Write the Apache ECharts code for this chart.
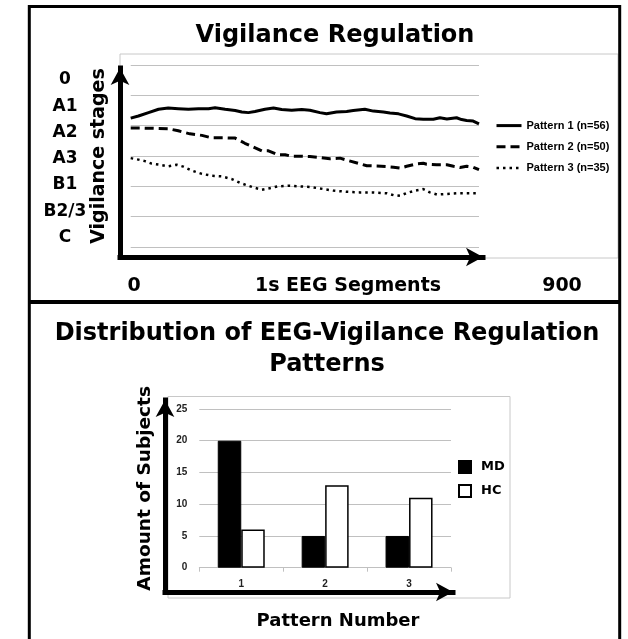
<!DOCTYPE html>
<html>

<head>
    <meta charset="utf-8" />
    <title>Vigilance Regulation</title>
    <style>
        html, body {
            margin: 0;
            padding: 0;
            background: #fff;
        }

        #chart {
            width: 628px;
            height: 639px;
        }
    </style>
</head>

<body>
    <div id="chart"></div>
    <script src="https://cdn.jsdelivr.net/npm/echarts@6.0.0/dist/echarts.min.js"></script>
    <script>
        // upper chart: stage labels, top to bottom
        var stageLabels = ['0', 'A1', 'A2', 'A3', 'B1', 'B2/3', 'C'];
        // x end labels of the upper chart
        var segRange = [0, 900];

        // pattern curves: x = 1s segment, y = grid step (0 = lowest line, 6 = top line)
        var p1X = [0, 20, 46, 72, 97, 123, 149, 175, 201, 218, 244, 270, 287, 304, 321, 347, 369, 390, 416, 442, 463, 489, 506, 532, 558, 575, 605, 627, 653, 670, 692, 713, 735, 756, 782, 799, 817, 842, 855, 868, 885, 900];
        var p1Y = [4.25, 4.32, 4.43, 4.54, 4.58, 4.56, 4.54, 4.56, 4.56, 4.59, 4.54, 4.50, 4.45, 4.43, 4.47, 4.54, 4.58, 4.53, 4.51, 4.53, 4.51, 4.43, 4.39, 4.45, 4.47, 4.50, 4.54, 4.48, 4.45, 4.42, 4.39, 4.32, 4.23, 4.21, 4.21, 4.26, 4.22, 4.26, 4.20, 4.17, 4.15, 4.06];

        var p2X = [0, 28, 63, 97, 123, 153, 184, 209, 244, 270, 295, 313, 339, 356, 381, 399, 416, 442, 463, 489, 515, 541, 562, 588, 610, 636, 662, 679, 696, 713, 739, 756, 765, 791, 817, 834, 851, 868, 885, 900];
        var p2Y = [3.92, 3.92, 3.91, 3.90, 3.83, 3.73, 3.68, 3.60, 3.60, 3.59, 3.42, 3.32, 3.17, 3.17, 3.04, 3.04, 2.99, 2.99, 2.98, 2.95, 2.91, 2.93, 2.85, 2.76, 2.68, 2.67, 2.65, 2.63, 2.60, 2.66, 2.74, 2.76, 2.73, 2.71, 2.71, 2.66, 2.62, 2.66, 2.63, 2.55];

        var p3X = [0, 20, 37, 54, 72, 97, 119, 136, 158, 184, 209, 235, 261, 283, 304, 321, 339, 356, 381, 407, 433, 463, 489, 523, 558, 592, 627, 662, 679, 696, 713, 735, 756, 773, 791, 817, 842, 868, 900];
        var p3Y = [2.93, 2.88, 2.83, 2.75, 2.72, 2.66, 2.71, 2.65, 2.52, 2.41, 2.35, 2.33, 2.24, 2.11, 2.02, 1.95, 1.89, 1.93, 2.00, 2.02, 2.00, 1.98, 1.93, 1.86, 1.82, 1.80, 1.80, 1.77, 1.71, 1.69, 1.78, 1.86, 1.91, 1.80, 1.73, 1.75, 1.77, 1.77, 1.77];

        var patternNames = ['Pattern 1 (n=56)', 'Pattern 2 (n=50)', 'Pattern 3 (n=35)'];

        // lower chart
        var patternNumbers = ['1', '2', '3'];
        var groupNames = ['MD', 'HC'];
        var mdCounts = [20, 5, 5];
        var hcCounts = [6, 13, 11];

        var bigFont = 'DejaVu Sans',
            smallFont = 'Liberation Sans, Arial',
            gridGray = '#c0c0c0',
            frameGray = '#c8c8c8';

        function zip(xs, ys) {
            var out = [];
            for (var i = 0; i < xs.length; i++) {
                out.push([xs[i], ys[i]]);
            }
            return out;
        }

        // axis that only draws a thick black arrow
        function arrowAxis(idx) {
            return {
                type: 'value',
                gridIndex: idx,
                min: 0,
                max: 1,
                axisLine: {
                    show: true,
                    onZero: false,
                    symbol: ['none', 'arrow'],
                    symbolSize: [14, 17],
                    lineStyle: { color: '#000', width: 5, cap: 'square' }
                },
                axisTick: { show: false },
                axisLabel: { show: false },
                splitLine: { show: false }
            };
        }

        function hiddenAxis(idx) {
            return {
                type: 'value',
                gridIndex: idx,
                show: false
            };
        }

        function drawChart() {
            var myChart = echarts.init(document.getElementById('chart'));
            var option = {
                backgroundColor: '#fff',
                animation: false,
                title: [
                    {
                        text: 'Vigilance Regulation',
                        left: 330,
                        top: 19,
                        textAlign: 'center',
                        textStyle: { fontFamily: bigFont, fontWeight: 'bold', fontSize: 24, color: '#000' }
                    },
                    {
                        text: 'Distribution of EEG-Vigilance Regulation\nPatterns',
                        left: 322,
                        top: 313,
                        textAlign: 'center',
                        textStyle: { fontFamily: bigFont, fontWeight: 'bold', fontSize: 24, lineHeight: 31, color: '#000' }
                    },
                    {
                        text: 'Pattern Number',
                        left: 333,
                        top: 607,
                        textAlign: 'center',
                        textStyle: { fontFamily: bigFont, fontWeight: 'bold', fontSize: 18, color: '#000' }
                    }
                ],
                legend: [
                    {
                        data: patternNames,
                        orient: 'vertical',
                        left: 490,
                        top: 115,
                        itemWidth: 25,
                        itemHeight: 14,
                        itemGap: 10,
                        selectedMode: false,
                        itemStyle: { opacity: 0 },
                        lineStyle: { width: 'inherit' },
                        textStyle: { fontFamily: smallFont, fontWeight: 'bold', fontSize: 11, color: '#000' }
                    },
                    {
                        data: groupNames,
                        orient: 'vertical',
                        left: 453,
                        top: 455,
                        icon: 'rect',
                        itemWidth: 12,
                        itemHeight: 12,
                        itemGap: 10,
                        selectedMode: false,
                        textStyle: { fontFamily: bigFont, fontWeight: 'bold', fontSize: 13, color: '#000', padding: [0, 0, 0, 5] }
                    }
                ],
                grid: [
                    // 0 upper plot
                    { left: 130.7, right: 149, top: 65, bottom: 392 },
                    // 1 stage labels
                    { left: 100, width: 2, top: 80, height: 157.5 },
                    // 2 upper arrows
                    { left: 120, right: 145, top: 68, bottom: 382 },
                    // 3 upper x labels
                    { left: 134, right: 66, top: 270, bottom: 363 },
                    // 4 bar plot
                    { left: 199.3, right: 177, top: 409, bottom: 71.3 },
                    // 5 lower arrows
                    { left: 165, right: 175, top: 400, bottom: 47 }
                ],
                xAxis: [
                    {
                        type: 'value',
                        gridIndex: 0,
                        min: segRange[0],
                        max: segRange[1],
                        axisLine: { show: false },
                        axisTick: { show: false },
                        axisLabel: { show: false },
                        splitLine: { show: false }
                    },
                    hiddenAxis(1),
                    arrowAxis(2),
                    {
                        type: 'value',
                        gridIndex: 3,
                        min: segRange[0],
                        max: segRange[1],
                        interval: segRange[1],
                        name: '1s EEG Segments',
                        nameLocation: 'middle',
                        nameGap: 10,
                        nameMoveOverlap: false,
                        nameTextStyle: { fontFamily: bigFont, fontWeight: 'bold', fontSize: 19, color: '#000', verticalAlign: 'middle' },
                        axisLine: { show: false },
                        axisTick: { show: false },
                        splitLine: { show: false },
                        axisLabel: { margin: 10, verticalAlign: 'middle', fontFamily: bigFont, fontWeight: 'bold', fontSize: 19, color: '#000' }
                    },
                    {
                        type: 'category',
                        gridIndex: 4,
                        data: patternNumbers,
                        axisLine: { lineStyle: { color: gridGray, width: 1 } },
                        axisTick: { show: true, length: 4, lineStyle: { color: gridGray } },
                        axisLabel: { margin: 12, fontFamily: smallFont, fontWeight: 'bold', fontSize: 10, color: '#222' }
                    },
                    arrowAxis(5)
                ],
                yAxis: [
                    {
                        type: 'value',
                        gridIndex: 0,
                        min: 0,
                        max: 6,
                        interval: 1,
                        name: 'Vigilance stages',
                        nameLocation: 'middle',
                        nameRotate: 90,
                        nameGap: 22,
                        nameTextStyle: { fontFamily: bigFont, fontWeight: 'bold', fontSize: 19, color: '#000' },
                        axisLine: { show: false },
                        axisTick: { show: false },
                        axisLabel: { show: false },
                        splitLine: { lineStyle: { color: gridGray, width: 1 } }
                    },
                    {
                        type: 'category',
                        gridIndex: 1,
                        data: stageLabels,
                        inverse: true,
                        boundaryGap: false,
                        axisLine: { show: false },
                        axisTick: { show: false },
                        splitLine: { show: false },
                        axisLabel: { margin: 35, align: 'center', fontFamily: bigFont, fontWeight: 'bold', fontSize: 17, color: '#000' }
                    },
                    arrowAxis(2),
                    hiddenAxis(3),
                    {
                        type: 'value',
                        gridIndex: 4,
                        min: 0,
                        max: 25,
                        interval: 5,
                        name: 'Amount of Subjects',
                        nameLocation: 'middle',
                        nameRotate: 90,
                        nameGap: 45,
                        nameTextStyle: { fontFamily: bigFont, fontWeight: 'bold', fontSize: 18.5, color: '#000' },
                        axisLine: { show: false },
                        axisTick: { show: false },
                        axisLabel: { margin: 12, fontFamily: smallFont, fontWeight: 'bold', fontSize: 10, color: '#222' },
                        splitLine: { lineStyle: { color: gridGray, width: 1 } }
                    },
                    arrowAxis(5)
                ],
                series: [
                    {
                        name: patternNames[0],
                        type: 'line',
                        xAxisIndex: 0,
                        yAxisIndex: 0,
                        symbol: 'none',
                        data: zip(p1X, p1Y),
                        lineStyle: { color: '#000', width: 3 },
                        itemStyle: { color: '#000' }
                    },
                    {
                        name: patternNames[1],
                        type: 'line',
                        xAxisIndex: 0,
                        yAxisIndex: 0,
                        symbol: 'none',
                        data: zip(p2X, p2Y),
                        lineStyle: { color: '#000', width: 3, type: [9, 5] },
                        itemStyle: { color: '#000' }
                    },
                    {
                        name: patternNames[2],
                        type: 'line',
                        xAxisIndex: 0,
                        yAxisIndex: 0,
                        symbol: 'none',
                        data: zip(p3X, p3Y),
                        lineStyle: { color: '#000', width: 2.5, type: [2.5, 4] },
                        itemStyle: { color: '#000' }
                    },
                    {
                        name: groupNames[0],
                        type: 'bar',
                        xAxisIndex: 4,
                        yAxisIndex: 4,
                        data: mdCounts,
                        barGap: '0%',
                        barCategoryGap: '44%',
                        itemStyle: { color: '#000', borderColor: '#000', borderWidth: 1 }
                    },
                    {
                        name: groupNames[1],
                        type: 'bar',
                        xAxisIndex: 4,
                        yAxisIndex: 4,
                        data: hcCounts,
                        barGap: '0%',
                        barCategoryGap: '44%',
                        itemStyle: { color: '#fff', borderColor: '#000', borderWidth: 1.5 }
                    }
                ],
                graphic: [
                    // light frames round the two plots
                    { type: 'rect', shape: { x: 120, y: 54, width: 498, height: 204 }, style: { fill: 'none', stroke: frameGray, lineWidth: 1 }, z: -1 },
                    { type: 'rect', shape: { x: 168, y: 396.5, width: 342, height: 201.5 }, style: { fill: 'none', stroke: frameGray, lineWidth: 1 }, z: -1 },
                    // black outer border and divider
                    { type: 'rect', shape: { x: 29.3, y: 6.5, width: 590.4, height: 640 }, style: { fill: 'none', stroke: '#000', lineWidth: 3 } },
                    { type: 'line', shape: { x1: 29.3, y1: 302, x2: 619.7, y2: 302 }, style: { stroke: '#000', lineWidth: 4 } }
                ]
            };
            myChart.setOption(option);
        }

        drawChart();
    </script>
</body>

</html>
